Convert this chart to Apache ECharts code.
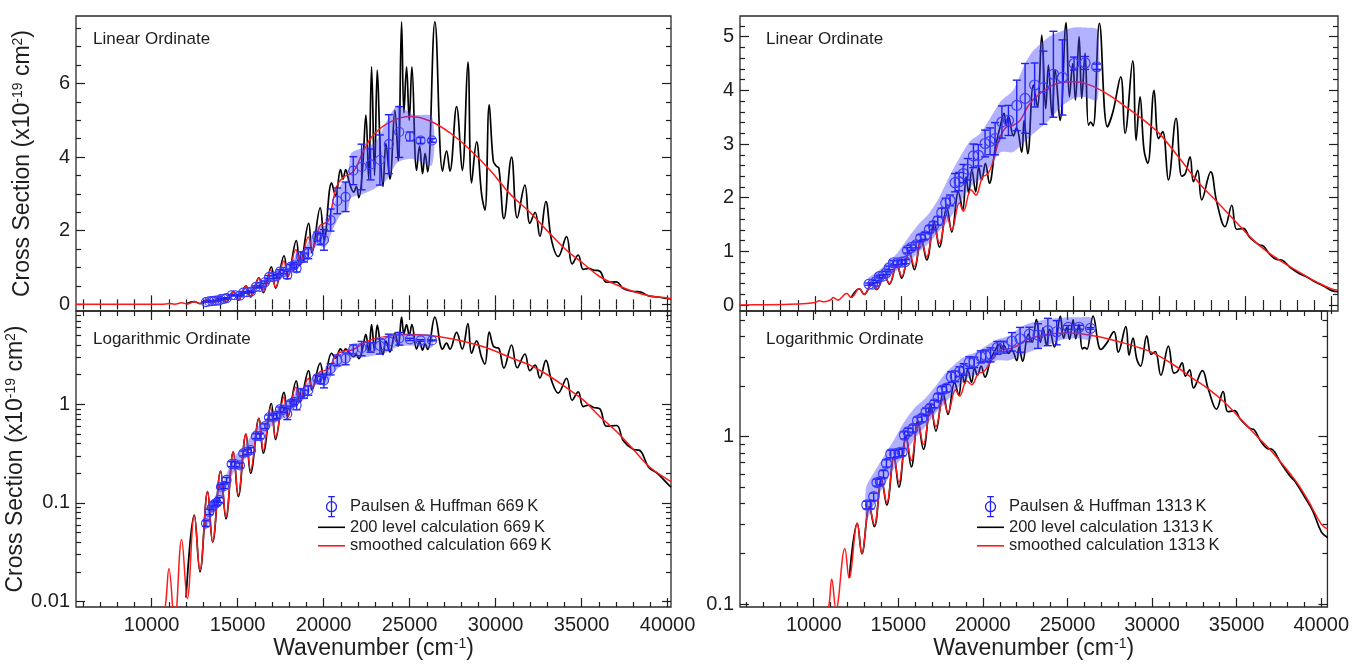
<!DOCTYPE html>
<html>
<head>
<meta charset="utf-8">
<script src="https://cdn.jsdelivr.net/npm/echarts@6/dist/echarts.min.js"></script>
<style>
html, body { margin: 0; padding: 0; background: #fff; }
#main { width: 1352px; height: 666px; }
</style>
</head>
<body>
<div id="main"></div>
<script>
// ---- tick labels ----
const xMajor = [10000, 15000, 20000, 25000, 30000, 35000, 40000];
const linMajor669 = [0, 2, 4, 6];
const linMajor1313 = [0, 1, 2, 3, 4, 5];
const logMajor669 = [0.01, 0.1, 1];
const logMajor1313 = [0.1, 1];

// ---- 669 K ----
// smoothed calculation
const smooth669 = [
  [5600, 0.0003], [7000, 0.0004], [8500, 0.0008], [9500, 0.0015], [10200, 0.003], [10600, 0.006],
  [10812, 0.0095], [11006, 0.0216], [11335, 0.006], [11742, 0.0426], [12072, 0.0107], [12479, 0.0751],
  [12808, 0.0208], [13254, 0.130], [13544, 0.0404], [14010, 0.210], [14320, 0.0724], [14746, 0.330],
  [15037, 0.120], [15482, 0.500], [15754, 0.215], [16238, 0.721], [16490, 0.343], [16917, 0.93],
  [17207, 0.47], [17692, 1.18], [17905, 0.75], [18390, 1.49], [18650, 1.1], [19107, 1.83], [19350, 1.5],
  [19785, 2.14], [20050, 2.2], [20300, 2.3], [20754, 3.2], [21141, 3.45], [21722, 3.6], [22304, 4.15],
  [22885, 4.6], [23854, 4.95], [25017, 5.1], [26180, 4.98], [27343, 4.66], [28506, 4.2], [29669, 3.65],
  [30831, 3.0], [31994, 2.5], [32963, 2.02], [34126, 1.47], [35095, 1.11], [36064, 0.75], [37033, 0.53],
  [38002, 0.35], [38971, 0.23], [39940, 0.175], [40200, 0.165]
];
// 200 level calculation
const level669 = [
  [12000, 0.011], [12479, 0.0751], [12808, 0.02], [13254, 0.13], [13544, 0.04], [14010, 0.21], [14320, 0.069],
  [14746, 0.33], [15037, 0.116], [15482, 0.5], [15754, 0.2], [16238, 0.72], [16490, 0.32], [16960, 1.02],
  [17207, 0.44], [17700, 1.32], [17920, 0.75], [18410, 1.73], [18622, 1.05], [19130, 2.2], [19320, 1.4],
  [19800, 2.62], [20030, 1.75], [20463, 3.3], [20700, 2.95], [20980, 3.66], [21130, 3.4], [21280, 3.66],
  [21500, 3.3], [21750, 3.05], [21900, 3.2], [22050, 2.9], [22250, 3.6], [22459, 5.14], [22620, 3.4],
  [22788, 6.45], [22960, 3.5], [23118, 6.36], [23300, 4.1], [23450, 3.2], [23622, 4.37], [23854, 3.4],
  [24145, 5.27], [24339, 3.9], [24533, 7.67], [24668, 5.2], [24823, 6.45], [24978, 5.0], [25133, 6.45],
  [25405, 3.64], [25580, 4.3], [25754, 3.55], [25900, 4.1], [26050, 3.6], [26471, 7.67], [26916, 3.62],
  [27149, 4.17], [27343, 3.62], [27731, 5.37], [28061, 3.64], [28390, 6.58], [28603, 3.3], [28893, 4.41],
  [29184, 3.0], [29378, 2.56], [29630, 5.42], [29863, 3.9], [30050, 3.75], [30192, 3.7], [30483, 2.33],
  [30928, 4.0], [31258, 2.35], [31703, 3.24], [31994, 2.2], [32300, 2.5], [32575, 1.85], [32924, 2.79],
  [33250, 1.75], [33641, 1.3], [34126, 1.84], [34450, 1.1], [34804, 1.34], [35100, 0.95], [35400, 0.98],
  [35700, 0.93], [36064, 0.9], [36450, 0.6], [37033, 0.61], [37420, 0.43], [38000, 0.35], [38390, 0.34],
  [38900, 0.23], [39400, 0.2], [39950, 0.16], [40200, 0.145]
];
// Paulsen & Huffman: wavenumber, value, error
const ph669 = [
  [13157, 0.062, 0.004], [13351, 0.081, 0.005], [13506, 0.090, 0.005], [13641, 0.097, 0.006],
  [13777, 0.100, 0.006], [13932, 0.107, 0.006], [14029, 0.146, 0.008], [14203, 0.148, 0.008],
  [14358, 0.171, 0.010], [14649, 0.248, 0.014], [14843, 0.248, 0.014], [15134, 0.240, 0.014],
  [15327, 0.318, 0.018], [15560, 0.330, 0.018], [15773, 0.343, 0.020], [16064, 0.476, 0.027],
  [16297, 0.476, 0.027], [16587, 0.60, 0.034], [16820, 0.74, 0.04], [17072, 0.74, 0.04],
  [17265, 0.764, 0.045], [17459, 0.89, 0.05], [17653, 0.88, 0.05], [17886, 0.80, 0.10],
  [18080, 1.02, 0.06], [18273, 1.06, 0.07], [18428, 0.98, 0.10], [18661, 1.31, 0.12],
  [18855, 1.27, 0.12], [19107, 1.39, 0.15], [19630, 1.84, 0.12], [19824, 1.77, 0.15],
  [20018, 1.75, 0.28], [20405, 2.29, 0.30], [20793, 2.81, 0.35], [21277, 2.92, 0.40],
  [21723, 3.63, 0.38], [22207, 3.73, 0.62], [22730, 3.80, 0.42], [23273, 3.92, 0.68],
  [23790, 4.35, 0.80], [24397, 4.68, 0.69], [25017, 4.56, 0.12], [25638, 4.45, 0.08], [26300, 4.45, 0.05]
];
// shaded uncertainty band: wavenumber, lower, upper
const band669 = [
  [13100, 0.052, 0.075], [13600, 0.08, 0.11], [14200, 0.125, 0.17], [14800, 0.21, 0.29], [15400, 0.28, 0.38],
  [16000, 0.4, 0.55], [16600, 0.52, 0.7], [17200, 0.65, 0.88], [17800, 0.75, 1.05], [18400, 0.95, 1.3],
  [19000, 1.2, 1.6], [19600, 1.6, 2.1], [20100, 1.55, 2.15], [20500, 2.0, 2.6], [21000, 2.45, 3.25],
  [21400, 2.55, 3.4], [21600, 2.9, 4.1], [22300, 3.0, 4.25], [23000, 3.15, 4.4], [23700, 3.4, 5.0],
  [24300, 3.85, 5.4], [25200, 3.95, 5.15], [26300, 3.78, 5.1]
];

// ---- 1313 K ----
const smooth1313 = [
  [5600, 0.003], [7000, 0.006], [8500, 0.015], [9500, 0.03], [10000, 0.05], [10250, 0.08], [10500, 0.06],
  [10910, 0.1], [11065, 0.141], [11316, 0.093], [11839, 0.215], [12091, 0.143], [12575, 0.304], [12846, 0.2],
  [13291, 0.382], [13582, 0.297], [14008, 0.552], [14317, 0.404], [14743, 0.76], [15034, 0.532], [15460, 0.98],
  [15769, 0.72], [16156, 1.23], [16486, 0.9], [16911, 1.45], [17221, 1.15], [17647, 1.68], [17938, 1.4],
  [18383, 1.9], [18615, 1.75], [19050, 2.15], [19340, 2.05], [19720, 2.38], [20050, 2.45], [20357, 2.7],
  [20745, 3.13], [21132, 3.32], [21519, 3.35], [21906, 3.44], [22487, 3.76], [23455, 4.03], [24229, 4.14],
  [25004, 4.16], [25778, 4.12], [26940, 3.94], [28102, 3.68], [29263, 3.4], [30036, 3.18], [31199, 2.72],
  [32359, 2.25], [33327, 1.93], [34295, 1.6], [35457, 1.21], [36231, 1.0], [37102, 0.81], [38457, 0.55],
  [39200, 0.42], [40006, 0.3], [40370, 0.28]
];
const level1313 = [
  [12100, 0.143], [12575, 0.304], [12846, 0.2], [13291, 0.382], [13582, 0.29], [14008, 0.555], [14317, 0.39],
  [14743, 0.76], [15034, 0.5], [15460, 1.0], [15769, 0.66], [16156, 1.25], [16486, 0.84], [16911, 1.55],
  [17221, 1.08], [17647, 1.82], [17937, 1.36], [18325, 2.11], [18576, 1.77], [18770, 2.39], [18925, 2.08],
  [19099, 2.53], [19331, 2.11], [19505, 2.57], [19680, 2.33], [19893, 2.64], [20125, 2.27], [20454, 2.9],
  [20745, 3.32], [20977, 3.57], [21093, 3.35], [21228, 3.51], [21519, 3.15], [21700, 3.3], [22003, 2.85],
  [22139, 3.44], [22352, 2.82], [22681, 4.1], [22913, 3.69], [23165, 5.03], [23397, 3.66], [23552, 4.47],
  [23765, 3.51], [23939, 4.38], [24229, 3.44], [24578, 5.26], [24771, 3.88], [24965, 4.5], [25120, 3.82],
  [25333, 5.0], [25488, 3.85], [25681, 4.69], [25875, 3.35], [26011, 3.41], [26150, 3.34], [26514, 5.25],
  [26977, 3.32], [27300, 3.6], [27751, 4.25], [28003, 3.2], [28448, 4.55], [28642, 3.07], [28874, 3.88],
  [29100, 2.9], [29320, 2.64], [29687, 4.0], [29950, 3.1], [30190, 3.23], [30520, 2.33], [30965, 3.48],
  [31294, 2.4], [31500, 2.45], [31778, 2.76], [31972, 2.3], [32223, 2.51], [32456, 1.96], [32978, 2.48],
  [33327, 1.92], [33811, 1.46], [34198, 1.86], [34489, 1.41], [34876, 1.43], [35200, 1.28], [35457, 1.2],
  [35800, 1.12], [36037, 1.1], [36400, 0.95], [36812, 0.85], [37102, 0.84], [37600, 0.7], [38167, 0.58],
  [38457, 0.54], [39000, 0.44], [39500, 0.36], [40006, 0.27], [40370, 0.25]
];
const ph1313 = [
  [13136, 0.391, 0.02], [13349, 0.391, 0.02], [13543, 0.438, 0.022], [13737, 0.532, 0.025], [13930, 0.54, 0.025],
  [14124, 0.598, 0.03], [14298, 0.693, 0.035], [14550, 0.789, 0.04], [14782, 0.789, 0.04], [15034, 0.80, 0.04],
  [15227, 0.81, 0.04], [15363, 1.02, 0.05], [15576, 1.07, 0.05], [15866, 1.12, 0.055], [16137, 1.25, 0.06],
  [16389, 1.29, 0.065], [16640, 1.41, 0.07], [16873, 1.48, 0.075], [17125, 1.57, 0.08], [17357, 1.72, 0.085],
  [17589, 1.90, 0.09], [17841, 1.95, 0.1], [18131, 2.28, 0.17], [18364, 2.3, 0.17], [18615, 2.45, 0.17],
  [18867, 2.53, 0.2], [19196, 2.78, 0.22], [19486, 2.79, 0.2], [19873, 3.01, 0.25], [20164, 3.05, 0.25],
  [20454, 3.1, 0.3], [20850, 3.41, 0.3], [21230, 3.44, 0.28], [21713, 3.72, 0.47], [22197, 3.85, 0.65],
  [22750, 4.1, 0.41], [23260, 4.05, 0.68], [23841, 4.30, 0.8], [24363, 4.24, 0.7], [25041, 4.50, 0.12],
  [25680, 4.51, 0.12], [26357, 4.44, 0.05]
];
const band1313 = [
  [13100, 0.32, 0.5], [13600, 0.4, 0.62], [14200, 0.52, 0.78], [14800, 0.66, 0.98], [15400, 0.8, 1.25],
  [16000, 0.98, 1.5], [16600, 1.15, 1.7], [17200, 1.38, 2.0], [17800, 1.6, 2.4], [18400, 1.9, 2.75],
  [19000, 2.2, 3.05], [19600, 2.35, 3.2], [20200, 2.6, 3.5], [20800, 2.85, 3.8], [21500, 2.85, 4.0],
  [22200, 3.05, 4.5], [22700, 3.2, 4.75], [23600, 3.45, 5.0], [24300, 3.7, 5.1], [25000, 3.85, 5.17],
  [25600, 3.88, 5.17], [26400, 3.82, 5.12]
];

const FONT = '"Liberation Sans", Arial, Helvetica, sans-serif';
const INK = '#1e1e1e';
const BLUE = '#2020f0';

// minor ticks
const xMinor = [];
for (let v = 6000; v <= 40000; v += 1000) if (v % 5000) xMinor.push(v);
const linMinor669 = [];
for (let i = 1; i <= 15; i++) if (i % 4) linMinor669.push(i * 0.5);
const linMinor1313 = [];
for (let i = 1; i <= 26; i++) if (i % 5) linMinor1313.push(+(i * 0.2).toFixed(1));
function logMinors(fromDecade, toDecade, maxVal) {
  const out = [];
  for (let d = fromDecade; d <= toDecade; d++) {
    for (let k = 2; k <= 9; k++) {
      const v = +(k * Math.pow(10, d)).toPrecision(3);
      if (v <= maxVal) out.push(v);
    }
  }
  return out;
}
const logMinor669 = logMinors(-2, 0, 8.8);
const logMinor1313 = logMinors(-1, 0, 5.6);

const panels = [
  { grid: { left: 76, top: 16, width: 595, height: 295 }, xMin: 5600, xMax: 40200, yType: 'value', yMin: -0.18, yMax: 7.83, yMajor: linMajor669, yMinor: linMinor669, xLabels: false, yName: true },
  { grid: { left: 76, top: 311, width: 595, height: 296 }, xMin: 5600, xMax: 40200, yType: 'log', yMin: 0.0088, yMax: 8.85, yMajor: logMajor669, yMinor: logMinor669, xLabels: true, yName: true },
  { grid: { left: 740, top: 16, width: 598, height: 295 }, xMin: 5640, xMax: 40370, yType: 'value', yMin: -0.11, yMax: 5.385, yMajor: linMajor1313, yMinor: linMinor1313, xLabels: false, yName: false },
  { grid: { left: 740, top: 311, width: 598, height: 296 }, xMin: 5640, xMax: 40370, yType: 'log', yMin: 0.096, yMax: 5.64, yMajor: logMajor1313, yMinor: logMinor1313, xLabels: true, yName: false }
];

const labelFmt = v => String(+Number(v).toPrecision(6));
const tickLine = { color: INK, width: 1.2 };
const titleRich = {
  a: { fontSize: 23, color: INK, fontFamily: FONT },
  s: { fontSize: 14, color: INK, fontFamily: FONT, verticalAlign: 'top' }
};

function tickAxis(gridIndex, position, type, min, max, values, len) {
  return {
    gridIndex: gridIndex, position: position, type: type, min: min, max: max, logBase: 10,
    axisLine: { show: false }, splitLine: { show: false }, minorTick: { show: false },
    axisTick: { show: true, inside: true, length: len, customValues: values, lineStyle: tickLine },
    axisLabel: { show: false }
  };
}

const xAxis = [], yAxis = [];
// main axes first (index = panel index), they carry the series and labels
panels.forEach((p, i) => {
  const xa = tickAxis(i, 'bottom', 'value', p.xMin, p.xMax, xMajor, 9);
  xa.axisLabel = { show: p.xLabels, customValues: xMajor, formatter: labelFmt, margin: 8, fontSize: 20, color: INK, fontFamily: FONT };
  if (p.xLabels) {
    xa.name = '{a|Wavenumber (cm}{s|-1}{a|)}';
    xa.nameLocation = 'middle';
    xa.nameGap = 30;
    xa.nameTextStyle = { rich: titleRich };
  }
  xAxis.push(xa);
  const ya = tickAxis(i, 'left', p.yType, p.yMin, p.yMax, p.yMajor, 9);
  ya.axisLabel = { show: true, customValues: p.yMajor, formatter: labelFmt, margin: 6, fontSize: 20, color: INK, fontFamily: FONT };
  if (p.yName) {
    ya.name = '{a|Cross Section (x10}{s|-19}{a| cm}{s|2}{a|)}';
    ya.nameLocation = 'middle';
    ya.nameGap = 42;
    ya.nameTextStyle = { rich: titleRich };
  }
  yAxis.push(ya);
});
// decoration axes: mirrored frame ticks and minor ticks
panels.forEach((p, i) => {
  xAxis.push(tickAxis(i, 'bottom', 'value', p.xMin, p.xMax, xMinor, 5));
  xAxis.push(tickAxis(i, 'top', 'value', p.xMin, p.xMax, xMajor, 9));
  xAxis.push(tickAxis(i, 'top', 'value', p.xMin, p.xMax, xMinor, 5));
  yAxis.push(tickAxis(i, 'left', p.yType, p.yMin, p.yMax, p.yMinor, 5));
  yAxis.push(tickAxis(i, 'right', p.yType, p.yMin, p.yMax, p.yMajor, 9));
  yAxis.push(tickAxis(i, 'right', p.yType, p.yMin, p.yMax, p.yMinor, 5));
});

function lineSeries(name, data, idx, color, width, z) {
  return {
    name: name, type: 'line', xAxisIndex: idx, yAxisIndex: idx, data: data,
    symbol: 'none', smooth: 0.4, lineStyle: { color: color, width: width }, itemStyle: { color: color },
    z: z, silent: true
  };
}

function bandSeries(band, idx) {
  return {
    type: 'custom', xAxisIndex: idx, yAxisIndex: idx, z: 4, silent: true,
    data: [[band[0][0], band[0][1]]],
    renderItem: function (params, api) {
      const pts = [];
      band.forEach(b => pts.push(api.coord([b[0], b[2]])));
      for (let k = band.length - 1; k >= 0; k--) pts.push(api.coord([band[k][0], band[k][1]]));
      return { type: 'polygon', shape: { points: pts, smooth: 0.25 }, style: { fill: 'rgba(70,70,255,0.42)' } };
    }
  };
}

function pointSeries(name, data, idx, radius) {
  return {
    name: name, type: 'custom', xAxisIndex: idx, yAxisIndex: idx, z: 5, silent: true,
    itemStyle: { color: BLUE },
    encode: { x: 0, y: 1 },
    data: data,
    renderItem: function (params, api) {
      const x = api.value(0), y = api.value(1), e = api.value(2);
      const c = api.coord([x, y]);
      const hi = api.coord([x, y + e]);
      const lo = api.coord([x, y - e]);
      const cap = 4;
      const bar = { stroke: BLUE, lineWidth: 1.4, fill: null };
      return {
        type: 'group',
        children: [
          { type: 'line', shape: { x1: c[0], y1: hi[1], x2: c[0], y2: lo[1] }, style: bar },
          { type: 'line', shape: { x1: c[0] - cap, y1: hi[1], x2: c[0] + cap, y2: hi[1] }, style: bar },
          { type: 'line', shape: { x1: c[0] - cap, y1: lo[1], x2: c[0] + cap, y2: lo[1] }, style: bar },
          { type: 'circle', shape: { cx: c[0], cy: c[1], r: radius }, style: { fill: null, stroke: '#3a3aff', lineWidth: 1.2 } }
        ]
      };
    }
  };
}

const temps = [
  { tag: '669\u2009K', lin: 0, log: 1, level: level669, smooth: smooth669, ph: ph669, band: band669, r: 4.5 },
  { tag: '1313\u2009K', lin: 2, log: 3, level: level1313, smooth: smooth1313, ph: ph1313, band: band1313, r: 5 }
];

const series = [];
temps.forEach(t => {
  [t.lin, t.log].forEach(idx => {
    series.push(lineSeries('200 level calculation ' + t.tag, t.level, idx, '#000000', 1.7, 2));
    series.push(lineSeries('smoothed calculation ' + t.tag, t.smooth, idx, '#ff1a1a', 1.5, 3));
    series.push(bandSeries(t.band, idx));
    series.push(pointSeries('Paulsen & Huffman ' + t.tag, t.ph, idx, t.r));
  });
});

const ERR_ICON = 'path://M4,0H12M8,0V24M4,24H12M14,12A6,6 0 1 1 2,12A6,6 0 1 1 14,12';
const LINE_ICON = 'path://M0,0H27V1.6H0Z';
function legendFor(t, left) {
  return {
    left: left, top: 491, orient: 'vertical', itemWidth: 27, itemHeight: 20, itemGap: 1.5,
    selectedMode: false,
    textStyle: { fontSize: 16.5, color: INK, fontFamily: FONT },
    data: [
      { name: 'Paulsen & Huffman ' + t.tag, icon: ERR_ICON, itemStyle: { color: 'rgba(0,0,0,0)', borderColor: BLUE, borderWidth: 1.3 } },
      { name: '200 level calculation ' + t.tag, icon: LINE_ICON, itemStyle: { color: '#000000', borderWidth: 0 } },
      { name: 'smoothed calculation ' + t.tag, icon: LINE_ICON, itemStyle: { color: '#ff1a1a', borderWidth: 0 } }
    ]
  };
}

const captions = [
  { text: 'Linear Ordinate', x: 93, y: 31 },
  { text: 'Logarithmic Ordinate', x: 93, y: 331 },
  { text: 'Linear Ordinate', x: 766, y: 31 },
  { text: 'Logarithmic Ordinate', x: 766, y: 331 }
];

const chart = echarts.init(document.getElementById('main'), null, { renderer: 'canvas' });
chart.setOption({
  animation: false,
  backgroundColor: '#fff',
  grid: panels.map(p => Object.assign({ show: true, borderColor: '#2a2a2a', borderWidth: 1.3, backgroundColor: 'transparent' }, p.grid)),
  xAxis: xAxis,
  yAxis: yAxis,
  legend: [legendFor(temps[0], 313), legendFor(temps[1], 972)],
  graphic: captions.map(c => ({
    type: 'text', left: c.x, top: c.y, silent: true,
    style: { text: c.text, fontSize: 17, fontFamily: FONT, fill: INK }
  })),
  series: series
});
</script>
</body>
</html>
